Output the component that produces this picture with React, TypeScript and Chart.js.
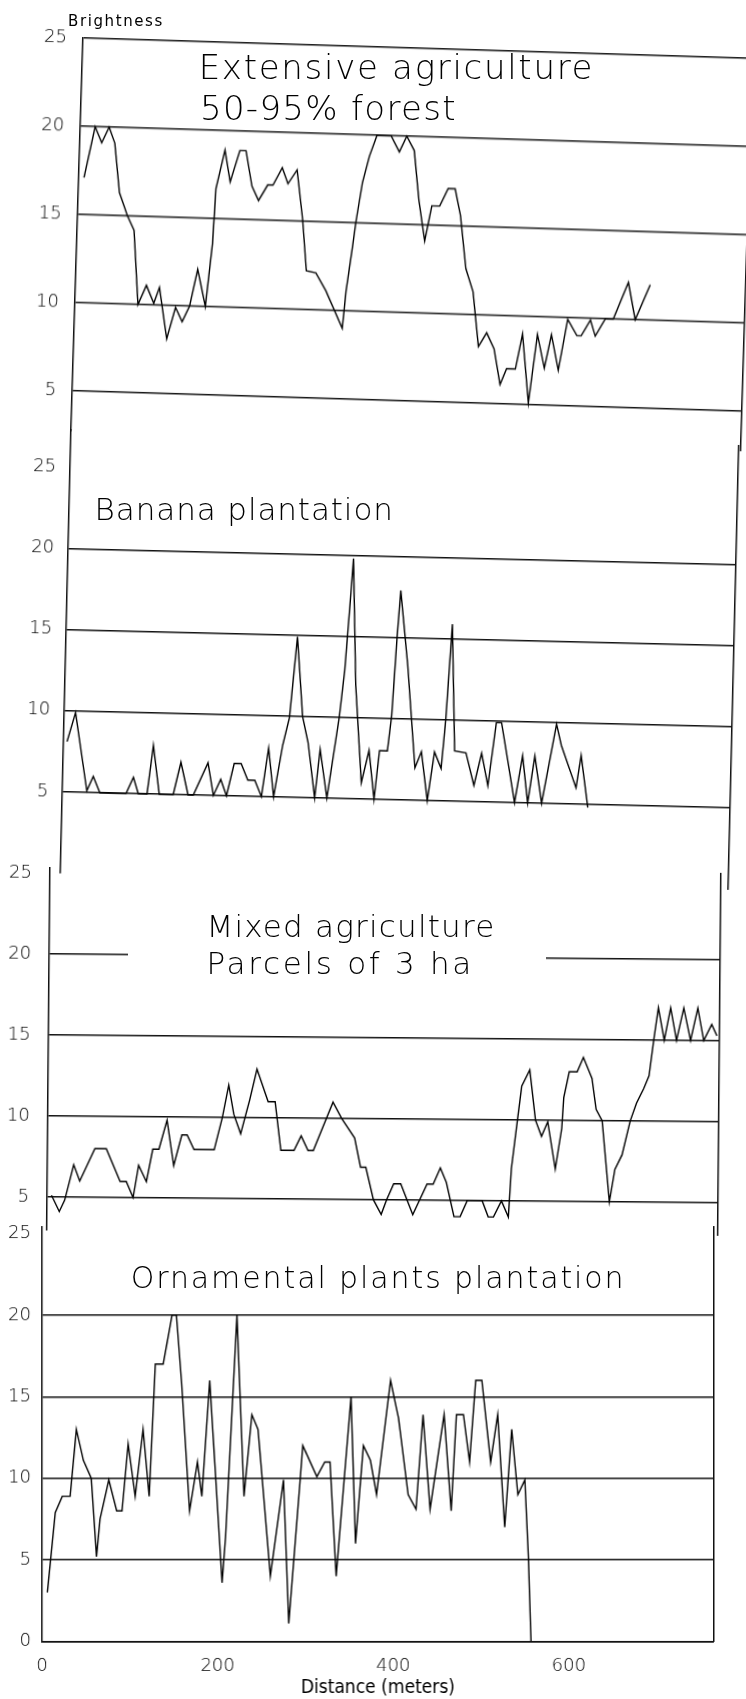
import React, { useEffect, useRef } from "react";
import { Chart, registerables } from "chart.js";

Chart.register(...registerables);

// ---------- data ----------
const X_MAX = 765;
const X_TICKS = [0, 200, 400, 600];
const Y_TICKS = [5, 10, 15, 20, 25];
const Y_TICKS_ZERO = [0, 5, 10, 15, 20, 25];
const GRID_TOP = [5, 10, 15, 20, 25];
const GRID_MID = [5, 10, 15, 20];
const GRID_BOTTOM = [0, 5, 10, 15, 20];

const P1_X = [6, 17, 25, 33, 40, 47, 57, 65, 72, 81, 90, 96, 106, 115, 123, 131, 139, 149, 155, 157, 166, 173, 183, 190, 198, 206, 216, 222, 232, 239, 249, 257, 263, 274, 286, 306, 309, 315, 318, 324, 331, 339, 355, 365, 373, 382, 389, 397, 404, 413, 422, 430, 437, 445, 454, 462, 471, 480, 488, 495, 505, 512, 521, 529, 538, 545, 554, 563, 574, 579, 589, 595, 606, 615, 631, 640, 656];
const P1_Y = [17.1, 20, 19.1, 20, 19.1, 16.3, 15.0, 14.2, 10.0, 11.1, 10.1, 11.0, 8.1, 9.9, 9.1, 10.0, 12.1, 10.0, 13.6, 16.7, 18.9, 17.1, 18.9, 18.9, 16.9, 16.1, 17.0, 17.0, 18.0, 17.1, 17.9, 15.1, 12.2, 12.1, 11.1, 9.0, 11.1, 13.7, 15.1, 17.3, 18.8, 20, 20, 19.1, 20, 19.2, 16.4, 14.1, 16.1, 16.1, 17.1, 17.1, 15.6, 12.6, 11.3, 8.2, 9.0, 8.1, 6.1, 7.0, 7.0, 9.0, 5.1, 9.0, 7.1, 9.0, 7.0, 9.9, 9.0, 9.0, 9.9, 9.0, 10.0, 10.0, 12.1, 10.0, 12.0];

const P2_X = [4, 13, 28, 35, 43, 73, 81, 87, 97, 103, 111, 127, 135, 144, 150, 166, 173, 181, 188, 196, 204, 212, 220, 228, 235, 242, 251, 258, 265, 273, 280, 289, 294, 303, 315, 320, 325, 327, 333, 342, 350, 357, 362, 371, 375, 379, 382, 392, 403, 410, 418, 425, 433, 437, 442, 448, 461, 471, 479, 487, 495, 501, 509, 518, 526, 533, 540, 549, 564, 570, 588, 593, 602];
const P2_Y = [8.1, 9.9, 5.1, 6.0, 5.0, 5.0, 6.0, 5.0, 5.0, 8.0, 5.0, 5.0, 7.0, 5.0, 5.0, 7.0, 5.0, 6.0, 5.0, 7.0, 7.0, 6.0, 6.0, 5.0, 8.0, 5.0, 8.2, 9.9, 14.9, 10.0, 8.4, 5.0, 8.0, 5.0, 10.0, 12.9, 17.7, 19.8, 12.0, 6.0, 8.0, 5.0, 8.0, 8.0, 10.2, 15.0, 17.9, 13.3, 7.0, 8.0, 5.0, 8.0, 7.0, 10.0, 15.9, 8.1, 8.0, 6.0, 8.0, 6.0, 9.9, 9.9, 7.6, 5.0, 7.9, 5.0, 7.9, 5.0, 9.9, 8.6, 6.0, 8.0, 4.8];

const P3_X = [5, 14, 20, 30, 37, 54, 67, 83, 90, 98, 104, 113, 120, 127, 136, 144, 153, 159, 167, 190, 199, 206, 212, 220, 230, 238, 251, 259, 266, 281, 289, 297, 303, 325, 335, 350, 357, 363, 372, 381, 387, 395, 403, 417, 433, 440, 448, 455, 464, 471, 479, 496, 503, 509, 518, 526, 529, 535, 540, 549, 556, 563, 570, 579, 586, 588, 594, 603, 610, 620, 625, 632, 641, 647, 655, 664, 671, 679, 685, 690, 695, 702, 709, 716, 724, 732, 740, 747, 756, 762];
const P3_Y = [5.1, 4.1, 4.8, 7.0, 6.0, 8.0, 8.0, 6.0, 6.0, 5.0, 7.0, 6.0, 8.0, 8.0, 9.8, 7.0, 8.9, 8.9, 8.0, 8.0, 10.0, 12.0, 10.2, 9.0, 11.1, 13.0, 11.0, 11.0, 8.0, 8.0, 8.9, 8.0, 8.0, 11.0, 10.0, 8.8, 7.0, 7.0, 5.0, 4.1, 5.0, 6.0, 6.0, 4.1, 6.0, 6.0, 7.0, 6.1, 4.0, 4.0, 5.0, 5.0, 4.0, 4.0, 5.0, 4.0, 7.0, 9.8, 12.1, 13.1, 10.0, 9.0, 9.9, 7.0, 9.5, 11.4, 13.0, 13.0, 13.9, 12.6, 10.7, 10.0, 5.0, 7.0, 7.9, 10.0, 11.1, 12.0, 12.8, 15.0, 17.0, 15.0, 17.0, 15.0, 17.0, 15.0, 17.0, 15.0, 16.0, 15.3];

const P4_X = [6, 15, 23, 32, 39, 47, 56, 62, 66, 76, 85, 91, 98, 106, 115, 122, 129, 138, 148, 153, 159, 168, 177, 182, 191, 205, 209, 222, 230, 239, 246, 260, 275, 281, 294, 297, 313, 322, 328, 335, 352, 357, 366, 374, 381, 397, 406, 417, 426, 434, 442, 458, 466, 472, 480, 487, 494, 501, 511, 519, 527, 535, 542, 550, 554, 557];
const P4_Y = [3.0, 7.9, 8.9, 8.9, 13.0, 11.1, 10.0, 5.2, 7.5, 9.9, 8.0, 8.0, 12.1, 8.9, 13.0, 8.9, 17.0, 17.0, 20, 20, 15.8, 8.0, 11.0, 8.9, 16.0, 3.6, 6.4, 20, 8.9, 13.9, 13.0, 4.0, 9.9, 1.1, 9.9, 12.0, 10.1, 11.0, 11.0, 4.0, 15.0, 6.0, 12.0, 11.1, 9.0, 16.0, 13.7, 9.0, 8.1, 13.9, 8.1, 13.9, 8.0, 13.9, 13.9, 11.0, 16.0, 16.0, 11.0, 13.9, 7.0, 13.0, 9.0, 9.9, 5.2, 0];

const Y_LABEL = "Brightness";
const X_LABEL = "Distance (meters)";

// ---------- layout ----------
const AXW = 60;
const PT = 10;
const PR = 10;
const PB = 10;
const TICK_FONT = { family: "'DejaVu Sans', sans-serif", size: 18, weight: 200 };
const TITLE_FONT = { family: "'DejaVu Sans Condensed', 'DejaVu Sans', sans-serif", size: 19 };
const INK = "#111";

type PanelProps = {
  xs: number[];
  ys: number[];
  yMin: number;
  yMax: number;
  ticks: number[];
  grid: number[];
  ox: number;
  oy: number;
  w: number;
  h: number;
  rot: number;
  tickPad: number;
  showX: boolean;
  hx?: number;
};

function noPad(s: any) {
  s.paddingTop = 0;
  s.paddingBottom = 0;
  s.paddingLeft = 0;
  s.paddingRight = 0;
}

function Panel(p: PanelProps) {
  const ref = useRef<HTMLCanvasElement | null>(null);
  useEffect(() => {
    if (!ref.current) return;
    const chart = new Chart(ref.current, {
      type: "line",
      data: {
        datasets: [
          {
            data: p.xs.map((x, i) => ({ x, y: p.ys[i] })),
            borderColor: "#000",
            borderWidth: 1.4,
            pointRadius: 0,
            tension: 0,
            fill: false,
          },
        ],
      },
      options: {
        animation: false,
        responsive: true,
        maintainAspectRatio: false,
        events: [],
        layout: {
          autoPadding: false,
          padding: { left: 0, top: PT, right: PR, bottom: p.showX ? 0 : PB },
        },
        plugins: { legend: { display: false }, tooltip: { enabled: false } },
        scales: {
          x: {
            type: "linear",
            min: 0,
            max: X_MAX,
            display: p.showX,
            afterFit: (s: any) => {
              s.height = p.hx || 0;
              noPad(s);
            },
            afterBuildTicks: (s: any) => {
              s.ticks = X_TICKS.map((v) => ({ value: v }));
            },
            grid: { display: false, drawTicks: false },
            border: { display: true, color: INK, width: 1.5 },
            ticks: { padding: 14, color: "#000", font: TICK_FONT, maxRotation: 0, autoSkip: false },
            title: { display: true, text: X_LABEL, color: "#000", font: TITLE_FONT, padding: 0 },
          },
          y: {
            type: "linear",
            position: "left",
            min: p.yMin,
            max: p.yMax,
            afterFit: (s: any) => {
              s.width = AXW;
              noPad(s);
            },
            afterBuildTicks: (s: any) => {
              s.ticks = p.ticks.map((v) => ({ value: v }));
            },
            grid: {
              drawTicks: false,
              lineWidth: 1.5,
              color: (c: any) => (c.tick && p.grid.includes(c.tick.value) ? INK : "rgba(0,0,0,0)"),
            },
            border: { display: true, color: INK, width: 1.5 },
            ticks: { padding: p.tickPad, color: "#000", font: TICK_FONT },
          },
          yR: {
            type: "linear",
            position: "right",
            min: p.yMin,
            max: p.yMax,
            afterFit: (s: any) => {
              s.width = 0;
              noPad(s);
            },
            grid: { display: false, drawTicks: false },
            border: { display: true, color: INK, width: 1.5 },
            ticks: { display: false },
          },
        },
      } as any,
    });
    return () => chart.destroy();
  }, []);
  const left = Math.round(p.ox - AXW);
  const top = Math.round(p.oy - PT);
  const width = AXW + p.w + PR;
  const height = PT + p.h + (p.showX ? p.hx || 0 : PB);
  return (
    <div
      style={{
        position: "absolute",
        left,
        top,
        width,
        height,
        transform: `rotate(${p.rot}deg)`,
        transformOrigin: `${AXW}px ${PT}px`,
      }}
    >
      <canvas ref={ref} />
    </div>
  );
}

function Label(props: { text: string; left: number; top: number; size: number; ls: number; weight?: number }) {
  return (
    <div
      style={{
        position: "absolute",
        left: props.left,
        top: props.top,
        fontFamily: "'DejaVu Sans', sans-serif",
        fontWeight: props.weight || 200,
        fontSize: props.size,
        lineHeight: 1,
        letterSpacing: props.ls,
        whiteSpace: "nowrap",
        color: "#000",
      }}
    >
      {props.text}
    </div>
  );
}

export default function App() {
  return (
    <div
      style={{
        position: "absolute",
        left: 0,
        top: 0,
        width: 746,
        height: 1699,
        overflow: "hidden",
        background: "#fff",
      }}
    >
      <Panel xs={P1_X} ys={P1_Y} yMin={2.75} yMax={25} ticks={Y_TICKS} grid={GRID_TOP} ox={83} oy={38} w={670} h={391.6} rot={1.75} tickPad={16} showX={false} />
      <Panel xs={P2_X} ys={P2_Y} yMin={0} yMax={27.3} ticks={Y_TICKS} grid={GRID_MID} ox={71.4} oy={429.7} w={668} h={443.1} rot={1.37} tickPad={14} showX={false} />
      <Panel xs={P3_X} ys={P3_Y} yMin={3} yMax={25.3} ticks={Y_TICKS} grid={GRID_MID} ox={50} oy={867.5} w={671} h={361.3} rot={0.5} tickPad={18} showX={false} />
      <Panel xs={P4_X} ys={P4_Y} yMin={0} yMax={25.4} ticks={Y_TICKS_ZERO} grid={GRID_BOTTOM} ox={42.3} oy={1227.2} w={670.6} h={413.5} rot={0} tickPad={11} showX={true} hx={58.3} />

      <div style={{ position: "absolute", left: 128, top: 948, width: 418, height: 14, background: "#fff" }} />

      <Label text={Y_LABEL} left={68} top={13.5} size={15} ls={1.6} weight={400} />
      <Label text="Extensive agriculture" left={198.7} top={49.5} size={34} ls={1.7} />
      <Label text="50-95% forest" left={200} top={91.2} size={34} ls={1.3} />
      <Label text="Banana plantation" left={94.6} top={493.8} size={31} ls={0.9} />
      <Label text="Mixed agriculture" left={206.5} top={910.5} size={31} ls={1.2} />
      <Label text="Parcels of 3 ha" left={206.5} top={948.1} size={31} ls={2.7} />
      <Label text="Ornamental plants plantation" left={130.7} top={1262.9} size={30} ls={1.9} />
    </div>
  );
}
